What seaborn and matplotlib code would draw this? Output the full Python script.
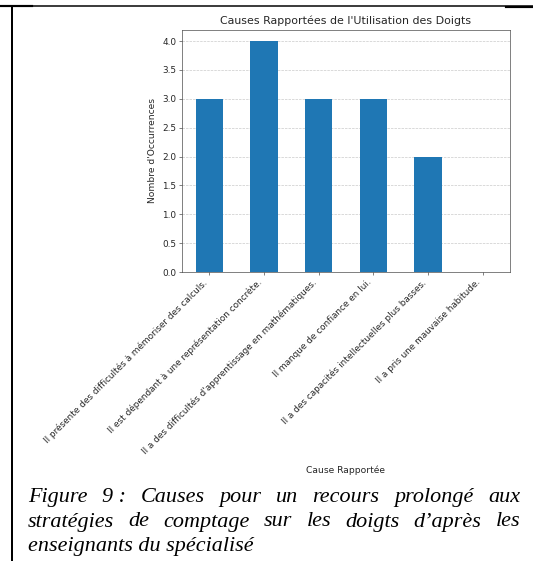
import matplotlib
matplotlib.use("Agg")
import matplotlib.pyplot as plt
import seaborn as sns
from matplotlib.lines import Line2D

# Data
causes = [
    "Il présente des difficultés à mémoriser des calculs.",
    "Il est dépendant à une représentation concrète.",
    "Il a des difficultés d'apprentissage en mathématiques.",
    "Il manque de confiance en lui.",
    "Il a des capacités intellectuelles plus basses.",
    "Il a pris une mauvaise habitude.",
]
counts = [3, 4, 3, 3, 2, 0]

title = "Causes Rapportées de l'Utilisation des Doigts"
xlabel = "Cause Rapportée"
ylabel = "Nombre d'Occurrences"
caption_lines = [
    "Figure 9 : Causes pour un recours prolongé aux",
    "stratégies de comptage sur les doigts d’après les",
    "enseignants du spécialisé",
]

W, H = 533, 561
DPI = 60


def fx(px):
    return px / W


def fy(py):
    return 1 - py / H


txt_color = '#262626'
fig = plt.figure(figsize=(W / DPI, H / DPI), dpi=DPI)
ax = fig.add_axes([fx(182), fy(272), fx(510) - fx(182), fy(29.5) - fy(272)])

sns.barplot(x=causes, y=counts, color='#1f77b4', saturation=1, width=0.5,
            errorbar=None, ax=ax)
ax.set_xlim(-0.5, len(causes) - 0.5)
ax.set_ylim(0, 4.2)
ax.set_axisbelow(True)
ax.grid(axis='y', linestyle='--', alpha=0.7)
ax.set_title(title, fontsize=13.2, color=txt_color)
ax.set_xlabel(xlabel, fontsize=11, color=txt_color, labelpad=11)
ax.set_ylabel(ylabel, fontsize=11, color=txt_color, labelpad=6)
ax.tick_params(labelsize=10.7, labelcolor=txt_color, color='#444444')
for s in ax.spines.values():
    s.set_color('#444444')
plt.setp(ax.get_xticklabels(), rotation=45, ha='right')

# Table-cell borders of the document
fig.add_artist(Line2D([0, 1], [fy(6), fy(6)], transform=fig.transFigure,
                      color='black', lw=1.8))
fig.add_artist(Line2D([fx(0), fx(32)], [fy(6), fy(6)], transform=fig.transFigure,
                      color='black', lw=2.6))
fig.add_artist(Line2D([fx(506), fx(533)], [fy(6.5), fy(6.5)], transform=fig.transFigure,
                      color='black', lw=2.6))
fig.add_artist(Line2D([fx(11.5), fx(11.5)], [fy(6), 0], transform=fig.transFigure,
                      color='black', lw=2.4))

# Justified italic caption
cap_font = dict(family='Liberation Serif', style='italic', size=26.5, color='black')
x_left, x_right = 28, 520
baselines = [502, 526.5, 551]
fig.canvas.draw()
renderer = fig.canvas.get_renderer()
for i, (line, base) in enumerate(zip(caption_lines, baselines)):
    if i == len(caption_lines) - 1:
        fig.text(fx(x_left), fy(base), line, va='baseline', ha='left', **cap_font)
        continue
    words = line.replace("9 :", "9\u00a0:").split(" ")
    texts = [fig.text(0, fy(base), w, va='baseline', ha='left', **cap_font) for w in words]
    widths = [t.get_window_extent(renderer).width for t in texts]
    gap = (x_right - x_left - sum(widths)) / (len(words) - 1)
    x = x_left
    for t, w in zip(texts, widths):
        t.set_x(fx(x))
        x += w + gap

fig.savefig('out.png', dpi=DPI)
